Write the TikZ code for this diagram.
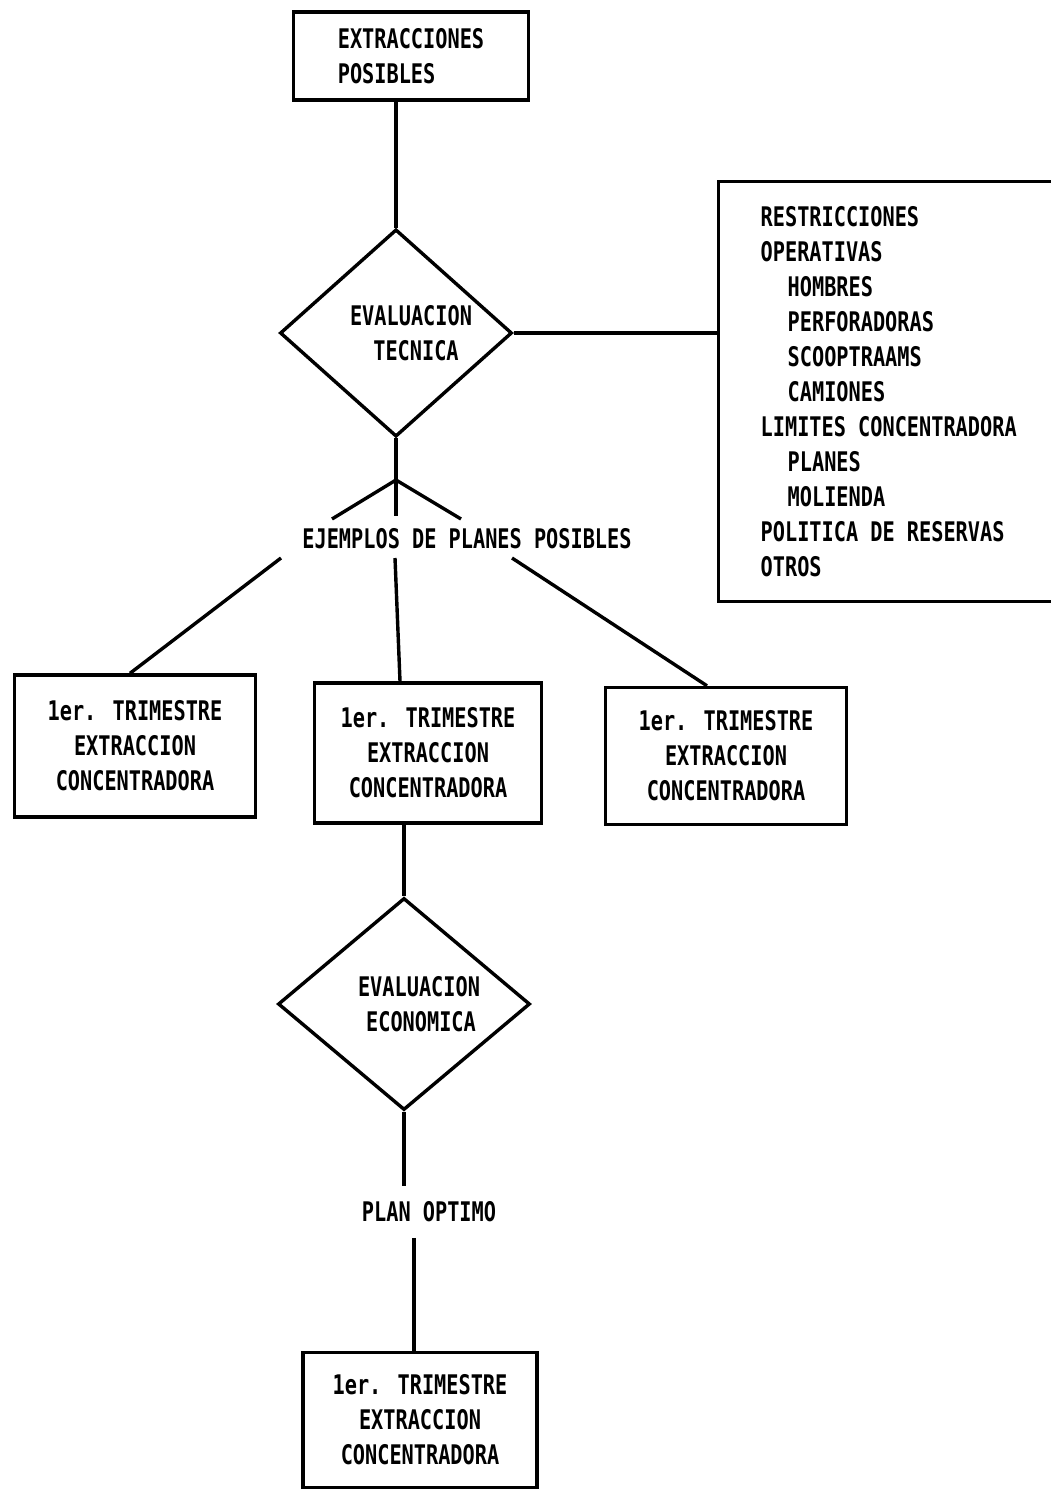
\documentclass[tikz,border=0pt]{standalone}
\usepackage{fontspec}
\setmainfont{DejaVu Sans Mono}[FakeStretch=0.75]
\usetikzlibrary{shapes.geometric,calc}

\begin{document}
\begin{tikzpicture}[x=1pt, y=-1pt, line width=3.4pt,
  font=\bfseries\fontsize{27}{35}\selectfont,
  box/.style={draw, rectangle, inner sep=0pt, align=center},
  decision/.style={draw, diamond, inner sep=0pt, align=center},
  lbl/.style={inner sep=6pt}]

\useasboundingbox (0,0) rectangle (1050,1490);

% Boxes
\node[box, align=left, minimum width=235, minimum height=88] (extr) at (411,56) {EXTRACCIONES\\POSIBLES};
\node[decision, minimum width=232, minimum height=207] (evtec) at (396,333) {\hspace*{30pt}EVALUACION\\\hspace*{40pt}TECNICA};
\node[box, align=left, anchor=north west, minimum width=340, minimum height=420] (restr) at (717,180)
  {RESTRICCIONES\\OPERATIVAS\\\hspace*{27pt}HOMBRES\\\hspace*{27pt}PERFORADORAS\\\hspace*{27pt}SCOOPTRAAMS\\\hspace*{27pt}CAMIONES\\LIMITES CONCENTRADORA\\\hspace*{27pt}PLANES\\\hspace*{27pt}MOLIENDA\\POLITICA DE RESERVAS\\OTROS};

% Plans
\node[lbl] (ejem) at (467,539) {EJEMPLOS DE PLANES POSIBLES};
\node[box, minimum width=241, minimum height=142] (t1) at (135,746) {1er. TRIMESTRE\\EXTRACCION\\CONCENTRADORA};
\node[box, minimum width=227, minimum height=140] (t2) at (428,753) {1er. TRIMESTRE\\EXTRACCION\\CONCENTRADORA};
\node[box, minimum width=241, minimum height=137] (t3) at (726,756) {1er. TRIMESTRE\\EXTRACCION\\CONCENTRADORA};

% Economic evaluation
\node[decision, minimum width=252, minimum height=212] (evec) at (404,1004) {\hspace*{30pt}EVALUACION\\\hspace*{34pt}ECONOMICA};
\node[lbl, inner sep=14pt] (optimo) at (429,1212) {PLAN OPTIMO};
\node[box, minimum width=234, minimum height=135] (t4) at (420,1420) {1er. TRIMESTRE\\EXTRACCION\\CONCENTRADORA};

% Split points
\coordinate (split) at (396,480);
\coordinate (up1) at (332,519);
\coordinate (up2) at (396,516);
\coordinate (up3) at (461,519);
\coordinate (dn1) at (281,558);
\coordinate (dn2) at (395,558);
\coordinate (dn3) at (512,558);

% Connectors
\draw (extr.south -| evtec.north) -- (evtec.north);
\draw (evtec.east) -- (evtec.east -| restr.west);
\draw (evtec.south) -- (split);
\draw (split) -- (up1);
\draw (split) -- (up2);
\draw (split) -- (up3);
\draw (dn1) -- ([xshift=-5pt]t1.north);
\draw (dn2) -- ([xshift=-28pt]t2.north);
\draw (dn3) -- ([xshift=-19pt]t3.north);
\draw (evec.north |- t2.south) -- (evec.north);
\draw (evec.south) -- (evec.south |- optimo.north);
\draw ([xshift=-15pt]optimo.south) -- ([xshift=-15pt]optimo.south |- t4.north);

\end{tikzpicture}
\end{document}
